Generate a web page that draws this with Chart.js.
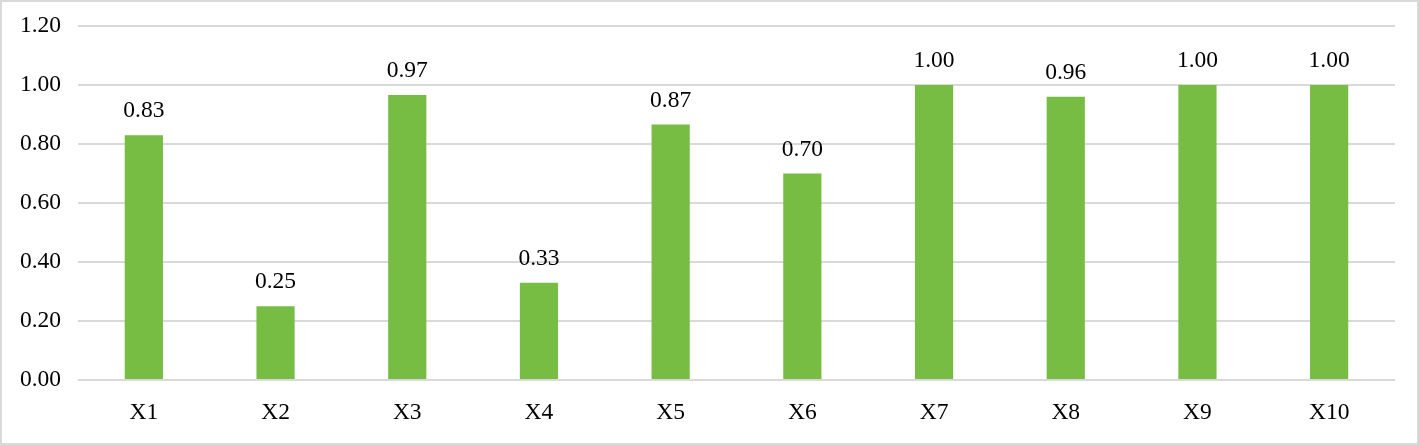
<!DOCTYPE html>
<html>
<head>
<meta charset="utf-8">
<script src="https://cdn.jsdelivr.net/npm/chart.js@4/dist/chart.umd.min.js"></script>
<style>
html,body{margin:0;padding:0;background:#fff;}
#wrap{position:relative;width:1419px;height:445px;}
</style>
</head>
<body>
<div id="wrap"><canvas id="c" width="1419" height="445"></canvas></div>
<script>
const categories = ["X1","X2","X3","X4","X5","X6","X7","X8","X9","X10"];
const values = [0.83, 0.25, 0.966, 0.33, 0.866, 0.70, 1.00, 0.96, 1.00, 1.00];
const yTicks = [0, 0.2, 0.4, 0.6, 0.8, 1.0, 1.2];

const FONT = "'Liberation Serif', 'Times New Roman', serif";
const FS = 23.5;

const frame = {
  id: 'frame',
  afterDraw(chart) {
    const ctx = chart.ctx;
    ctx.save();
    ctx.strokeStyle = '#d9d9d9';
    ctx.lineWidth = 2;
    ctx.strokeRect(1, 1, chart.width - 2, chart.height - 2);
    ctx.restore();
  }
};

const labels = {
  id: 'labels',
  afterDatasetsDraw(chart) {
    const ctx = chart.ctx;
    const meta = chart.getDatasetMeta(0);
    ctx.save();
    ctx.font = FS + "px " + FONT;
    ctx.fillStyle = '#000';
    ctx.textAlign = 'center';
    ctx.textBaseline = 'alphabetic';
    meta.data.forEach((bar, i) => {
      ctx.fillText(values[i].toFixed(2), bar.x, bar.y - 18);
    });
    ctx.restore();
  }
};

new Chart(document.getElementById('c'), {
  type: 'bar',
  data: {
    labels: categories,
    datasets: [{
      data: values,
      backgroundColor: '#77bc43',
      barPercentage: 0.29,
      categoryPercentage: 1.0
    }]
  },
  options: {
    responsive: false,
    animation: false,
    devicePixelRatio: 1,
    layout: { padding: { top: 26, right: 24, left: 0, bottom: 0 } },
    plugins: { legend: { display: false }, tooltip: { enabled: false } },
    scales: {
      x: {
        grid: { display: false, drawTicks: false },
        border: { display: false },
        ticks: { color: '#000', font: { family: FONT, size: FS }, padding: 19 },
        afterFit(s) { s.height = 65; s.paddingLeft = 0; s.paddingRight = 0; }
      },
      y: {
        min: 0, max: 1.2,
        afterBuildTicks(s) { s.ticks = yTicks.map(v => ({ value: v })); },
        grid: { color: '#d9d9d9', lineWidth: 2, drawTicks: false },
        border: { display: false },
        ticks: {
          color: '#000', font: { family: FONT, size: FS }, padding: 17,
          callback: v => Number(v).toFixed(2)
        },
        afterFit(s) { s.width = 78; s.paddingTop = 0; s.paddingBottom = 0; }
      }
    }
  },
  plugins: [frame, labels]
});
</script>
</body>
</html>
